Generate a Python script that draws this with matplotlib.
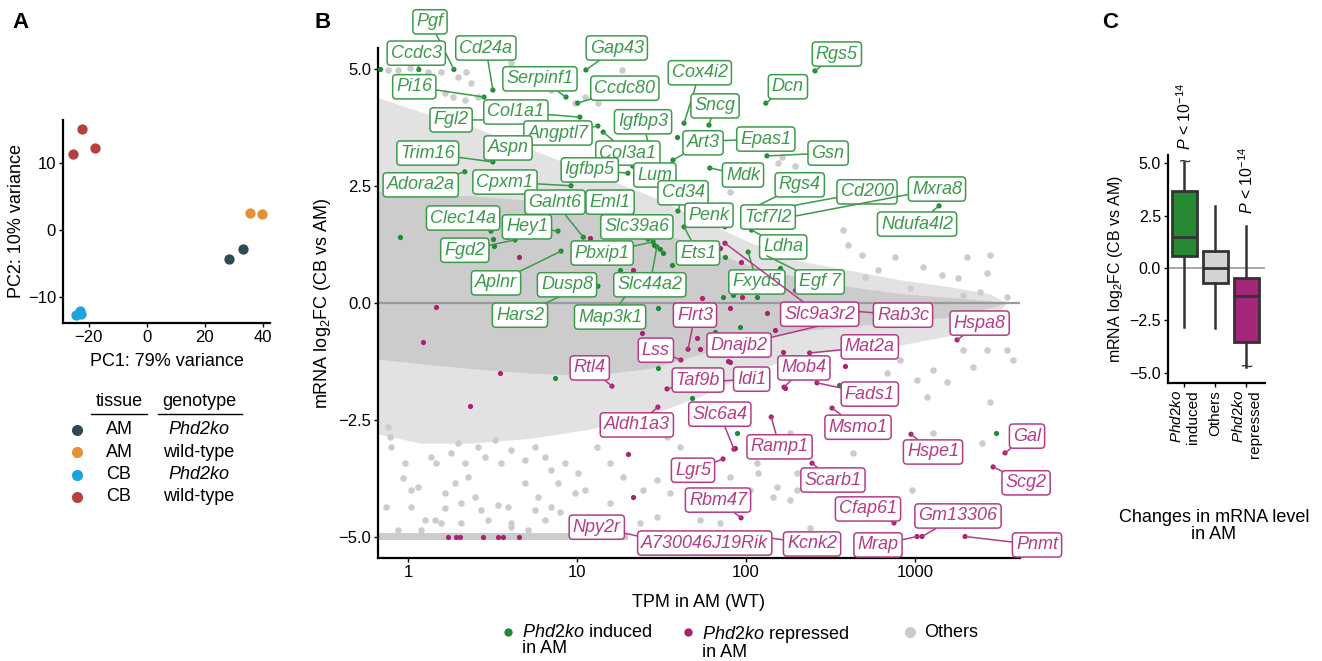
import matplotlib
matplotlib.use("Agg")
import matplotlib.pyplot as plt
from matplotlib.lines import Line2D
from matplotlib.ticker import NullLocator

plt.rcParams['font.family'] = ['Liberation Sans', 'DejaVu Sans']
plt.rcParams['mathtext.fontset'] = 'custom'
plt.rcParams['mathtext.rm'] = 'Liberation Sans'
plt.rcParams['mathtext.it'] = 'Liberation Sans:italic'
plt.rcParams['mathtext.bf'] = 'Liberation Sans:bold'

W, H = 1322, 661

# ---------------- A: PCA ----------------
pca_groups = [('AM', 'Phd2ko'), ('AM', 'wild-type'), ('CB', 'Phd2ko'), ('CB', 'wild-type')]
pca_colors = ['#2F4A53', '#E69138', '#1FA3DD', '#B5403F']
pc1 = [[28.5, 33.3], [35.6, 39.9], [-23.2, -24.4, -22.8], [-22.4, -25.5, -17.8]]
pc2 = [[-4.35, -2.85], [2.6, 2.4], [-12.1, -12.7, -12.5], [15.1, 11.4, 12.3]]

# ---------------- B: MA plot ----------------
# dense cloud of "Others" (outline of the solid core and the speckled halo)
env_tpm = [0.665, 1.18, 2.33, 5.27, 11.9, 27.0, 53.3, 105, 208, 411, 812, 1603, 2763, 3500]
core_hi = [2.4, 2.3, 2.3, 2.2, 2.0, 1.6, 1.2, 0.8, 0.55, 0.35, 0.2, 0.12, 0.05, 0.0]
core_lo = [-1.2, -1.3, -1.4, -1.5, -1.55, -1.4, -1.1, -0.8, -0.6, -0.5, -0.4, -0.3, -0.1, 0.0]
halo_hi = [4.4, 4.1, 3.8, 3.3, 2.8, 2.3, 1.8, 1.3, 0.9, 0.7, 0.5, 0.35, 0.2, 0.0]
halo_lo = [-2.8, -3.0, -3.0, -2.9, -2.7, -2.4, -2.0, -1.5, -1.1, -1.0, -0.9, -0.7, -0.4, 0.0]
floor_tpm = [0.665, 20.0]   # genes capped at -5

other_tpm = [0.76, 0.87, 1.03, 1.31, 1.57, 1.98, 2.20, 2.36, 1.66, 1.85, 2.17, 2.60, 2.26,
             4.07, 4.93, 5.88, 7.03, 8.26, 9.69, 11.1, 18.4, 13.3,
             163, 155, 80.2, 195, 375, 402, 486, 762, 1114, 1445, 2031, 2780, 2670, 1796,
             3500, 2412, 1923, 934, 604, 506, 604,
             0.76, 0.79, 0.78, 0.96, 0.93, 1.15, 1.04, 1.37, 1.46, 1.80, 1.98, 2.17, 2.60,
             2.86, 3.27, 3.55, 4.07, 4.93, 5.65, 6.47, 7.03, 7.72, 8.49, 10.1, 11.1, 1.04,
             1.26, 1.44, 1.66, 2.06, 2.49, 2.70, 3.40, 3.90, 4.07, 5.65, 6.47, 7.03, 7.93,
             9.69, 0.87, 1.19, 1.57, 2.06, 2.97, 4.07, 5.13, 1.90, 2.26, 1.66, 4.93, 5.88, 0.74,
             13.1, 15.7, 18.8, 24.5, 29.7, 35.5, 46.5, 58.9, 80.2, 105, 152, 182, 200, 116,
             138, 152, 182, 53.3, 70, 29.7, 23.6, 15.7, 40.6, 34.1, 105, 217,
             1278, 1028, 1545, 2780, 1278, 2490, 430, 960, 238, 3500, 2670, 3800, 1923, 2205,
             118, 145, 200, 680, 812, 1170]
other_lfc = [4.99, 4.99, 5.03, 4.95, 4.95, 4.84, 4.95, 4.71, 4.50, 4.41, 4.35, 4.41, 4.13,
             5.14, 4.99, 4.95, 4.56, 4.88, 4.28, 4.41, 4.99, 4.28,
             3.13, 3.0, 2.38, 2.93, 1.56, 1.24, 1.03, 0.98, 0.77, 0.6, 0.98, 1.03, 0.64, 0.54,
             0.13, 0.24, 0.17, 0.32, 0.21, 0.56, 0.71,
             -2.66, -3.08, -2.87, -3.43, -3.75, -3.94, -4.0, -3.30, -3.43, -3.21, -3.0, -3.43, -3.08,
             -3.30, -2.93, -3.43, -3.15, -3.36, -3.08, -3.30, -3.58, -3.85, -3.43, -3.64, -4.0, -4.37,
             -4.65, -4.65, -4.39, -4.28, -4.15, -4.43, -4.33, -4.37, -4.71, -4.43, -4.65, -4.37, -4.48,
             -4.07, -4.86, -4.86, -4.71, -4.71, -4.65, -4.80, -4.86, -3.85, -3.73, -4.07, -3.85, -4.15, -4.37,
             -3.08, -3.43, -3.73, -4.0, -3.79, -4.07, -4.15, -4.0, -3.73, -4.0, -3.94, -4.22, -3.64, -3.43,
             -3.15, -2.93, -2.78, -4.65, -4.71, -4.58, -4.71, -4.28, -3.08, -2.87, -2.93, -3.15,
             -1.43, -1.65, -1.69, -2.12, -2.78, -3.0, -3.21, -4.0, -4.82, -1.01, -1.01, -1.22, -1.01, -1.37,
             -3.64, -4.15, -4.0, -1.5, -1.22, -2.01]

# unlabelled regulated genes
ind_tpm = [0.68, 0.90, 7.41, 39.1, 32.3, 36.5, 17.9, 75.1, 158, 30.1, 65.6, 30.1, 47.9, 88.5,
           91.9, 355, 3013, 73.1, 83.7, 116, 3.23, 3.85, 3.18, 28.5, 31.0]
ind_lfc = [5.0, 1.41, -1.61, 3.55, 1.07, 0.81, 0.71, 0.99, 0.75, -0.11, -0.62, -1.39, -2.03, -2.78,
           -0.51, -1.76, -2.78, 0.13, 0.17, 0.13, 1.22, 1.41, 1.37, 1.25, 1.15]
rep_tpm = [1.46, 1.23, 3.50, 2.33, 1.72, 1.92, 2.03, 2.78, 3.40, 3.65, 4.54, 4.54, 11.9, 21.4,
           24.3, 51.3, 53.3, 78.2, 20.0, 21.4, 166, 385, 70, 93.5, 195, 55, 94.5, 80.2, 133,
           149, 80.2, 86.1, 170]
rep_lfc = [-0.09, -0.83, -1.5, -2.21, -5.0, -5.0, -5.0, -5.0, -5.0, -5.0, -5.0, 0.99, 1.39, 0.71,
           -0.64, -0.75, -0.99, -1.24, -3.23, -4.15, -1.05, -1.35, 1.18, 0.88, 0.28, 0.11, 0.13, -0.11, -0.21,
           -0.58, -1.26, -3.1, -1.82]

# labelled genes: name, TPM, log2FC, class
gene_name = ['Pgf', 'Ccdc3', 'Cd24a', 'Gap43', 'Serpinf1', 'Pi16', 'Ccdc80', 'Fgl2', 'Col1a1',
             'Angptl7', 'Igfbp3', 'Col3a1', 'Trim16', 'Aspn', 'Adora2a', 'Cpxm1', 'Igfbp5', 'Lum',
             'Galnt6', 'Eml1', 'Clec14a', 'Hey1', 'Fgd2', 'Slc39a6', 'Pbxip1', 'Aplnr', 'Hars2', 'Dusp8',
             'Map3k1', 'Slc44a2', 'Cox4i2', 'Sncg', 'Epas1', 'Art3', 'Gsn', 'Mdk', 'Cd34', 'Penk', 'Ets1',
             'Rgs5', 'Dcn', 'Rgs4', 'Cd200', 'Mxra8', 'Tcf7l2', 'Ndufa4l2', 'Ldha', 'Egf 7', 'Fxyd5',
             'Flrt3', 'Lss', 'Rab3c', 'Dnajb2', 'Slc9a3r2', 'Hspa8', 'Mat2a', 'Mob4', 'Fads1', 'Msmo1',
             'Hspe1', 'Scarb1', 'Gal', 'Scg2', 'Cfap61', 'Gm13306', 'Mrap', 'Pnmt', 'Kcnk2', 'Npy2r',
             'A730046J19Rik', 'Rbm47', 'Lgr5', 'Ramp1', 'Slc6a4', 'Aldh1a3', 'Idi1', 'Taf9b', 'Rtl4']
gene_tpm = [1.87, 1.16, 3.18, 11.3, 8.61, 2.82, 10.1, 3.06, 10.4,
            13.3, 27.0, 14.3, 3.18, 3.75, 2.17, 9.21, 20.0, 21.4,
            10.9, 14.4, 3.10, 7.72, 4.30, 26.3, 28.2, 8.05, 9.09, 13.3,
            20.6, 29.7, 43.0, 60.4, 62.9, 37.0, 133, 61.1, 39.6, 75.1, 43.0,
            256, 131, 98.6, 158, 182, 130, 1387, 108, 133, 103,
            45.4, 41.2, 360, 336, 75.1, 1774, 238, 168, 263, 323,
            947, 246, 3410, 2897, 751, 1100, 1028, 1977, 121, 23.6,
            53.3, 93.5, 73.1, 141, 84.9, 30.1, 57.2, 34.1, 16.1]
gene_lfc = [5.0, 5.0, 4.56, 4.99, 4.41, 4.41, 4.28, 3.92, 3.98,
            3.79, 3.28, 3.66, 3.02, 3.28, 2.81, 2.51, 2.78, 2.93,
            1.41, 1.82, 1.54, 1.54, 1.35, 1.37, 1.31, 1.11, 0.24, 0.36,
            0.28, 1.2, 3.85, 3.81, 3.47, 3.06, 3.15, 2.89, 1.97, 1.63, 1.63,
            4.97, 4.28, 1.95, 2.03, 1.84, 1.73, 2.08, 1.56, 1.01, 1.09,
            -0.99, -1.22, -0.15, -0.41, 1.28, -0.79, -1.07, -1.8, -1.71, -2.25,
            -2.81, -3.43, -3.21, -3.51, -4.71, -5.0, -5.0, -5.0, -5.0, -5.0,
            -5.0, -4.6, -3.34, -2.44, -3.13, -2.23, -1.69, -1.84, -1.78]
gene_class = ['up'] * 49 + ['down'] * 29

# where each label box sits (repelled positions)
label_tpm = [1.35, 1.12, 2.89, 17.2, 6.04, 1.09, 19.2, 1.80, 4.35,
             7.72, 24.6, 20.0, 1.31, 3.91, 1.19, 3.75, 11.9, 28.9,
             7.41, 15.7, 2.12, 5.06, 2.17, 22.6, 14.1, 3.32, 4.60, 8.73,
             15.7, 27.0, 53.3, 65.6, 131, 55.7, 306, 96.0, 42.4, 60.4, 52.0,
             345, 177, 208, 520, 1349, 135, 1028, 166, 273, 116,
             49.9, 29.3, 849, 91.0, 273, 2412, 540, 220, 540, 460,
             1278, 327, 4600, 4540, 527, 1796, 604, 5270, 246, 13.1,
             57, 68.3, 48.6, 158, 70, 22.6, 108, 52, 11.9]
label_lfc = [6.02, 5.35, 5.46, 5.46, 4.8, 4.63, 4.6, 3.92, 4.09,
             3.64, 3.88, 3.21, 3.21, 3.32, 2.53, 2.59, 2.85, 2.74,
             2.16, 2.16, 1.82, 1.63, 1.13, 1.63, 1.07, 0.43, -0.26, 0.39,
             -0.30, 0.39, 4.93, 4.22, 3.51, 3.43, 3.21, 2.74, 2.36, 1.88, 1.07,
             5.33, 4.63, 2.53, 2.38, 2.44, 1.84, 1.69, 1.2, 0.45, 0.45,
             -0.26, -1.01, -0.26, -0.9, -0.24, -0.43, -0.94, -1.39, -1.95, -2.66,
             -3.19, -3.79, -2.85, -3.85, -4.41, -4.56, -5.18, -5.18, -5.16, -4.8,
             -5.14, -4.22, -3.58, -3.08, -2.38, -2.61, -1.63, -1.65, -1.39]

# ---------------- C: boxplot ----------------
box_names = ['$\\it{Phd2ko}$\ninduced', 'Others', '$\\it{Phd2ko}$\nrepressed']
box_q1 = [0.56, -0.72, -3.53]
box_med = [1.5, -0.02, -1.36]
box_q3 = [3.68, 0.8, -0.48]
box_lo = [-2.8, -2.88, -4.73]
box_hi = [5.05, 2.96, 2.0]
box_colors = ['#268A33', '#D3D3D3', '#A32679']

green_pt, pink_pt, grey_pt = '#1E8A32', '#A8226F', '#CCCCCC'
green_lab, pink_lab = '#3C9A4B', '#B43C87'

fig = plt.figure(figsize=(W / 100, H / 100), dpi=100)


def box(l, t, r, b):
    return [l / W, 1 - b / H, (r - l) / W, (b - t) / H]


# ===== panel A =====
axA = fig.add_axes(box(63, 120, 270, 323))
for i in range(4):
    axA.scatter(pc1[i], pc2[i], s=55, color=pca_colors[i], lw=0, zorder=3)
axA.set_xlim(-28.9, 42.5)
axA.set_ylim(-13.9, 16.5)
axA.set_xticks([-20, 0, 20, 40])
axA.set_xticklabels(['\u221220', '0', '20', '40'])
axA.set_yticks([-10, 0, 10])
axA.set_yticklabels(['\u221210', '0', '10'])
axA.tick_params(labelsize=12, length=3, width=1, pad=2)
for s in ['top', 'right']:
    axA.spines[s].set_visible(False)
for s in ['left', 'bottom']:
    axA.spines[s].set_linewidth(1.6)
axA.set_xlabel('PC1: 79% variance', fontsize=13, labelpad=6)
axA.set_ylabel('PC2: 10% variance', fontsize=13, labelpad=2)

# table-like legend
fig.text(119 / W, 1 - 402 / H, 'tissue', ha='center', va='center', fontsize=13)
fig.text(199 / W, 1 - 402 / H, 'genotype', ha='center', va='center', fontsize=13)
fig.add_artist(Line2D([91 / W, 147 / W], [1 - 414 / H] * 2, color='black', lw=1))
fig.add_artist(Line2D([158 / W, 242 / W], [1 - 414 / H] * 2, color='black', lw=1))
for i, (tis, gen) in enumerate(pca_groups):
    yy = 1 - (430 + 22.3 * i) / H
    fig.add_artist(Line2D([77 / W], [yy], marker='o', ms=8, mew=0, color=pca_colors[i], ls=''))
    fig.text(119 / W, yy, tis, ha='center', va='center', fontsize=13)
    fig.text(199 / W, yy, gen, ha='center', va='center', fontsize=13,
             style='italic' if gen == 'Phd2ko' else 'normal')

# ===== panel B =====
axB = fig.add_axes(box(378, 48, 1020, 558))
axB.set_xscale('log')
axB.fill_between(env_tpm, halo_lo, halo_hi, color='#E2E2E2', lw=0, zorder=1)
axB.fill_between(env_tpm, core_lo, core_hi, color=grey_pt, lw=0, zorder=1.2)
axB.fill_between(floor_tpm, -5.07, -4.93, color=grey_pt, lw=0, zorder=1.2)
axB.scatter(other_tpm, other_lfc, s=22, color=grey_pt, lw=0, zorder=1.3)
axB.axhline(0, color='#9A9A9A', lw=1.6, zorder=2)
axB.scatter(ind_tpm, ind_lfc, s=14, color=green_pt, lw=0, zorder=3, clip_on=False)
axB.scatter(rep_tpm, rep_lfc, s=14, color=pink_pt, lw=0, zorder=3)
pt_cols = [green_pt if c == 'up' else pink_pt for c in gene_class]
axB.scatter(gene_tpm, gene_lfc, s=14, c=pt_cols, lw=0, zorder=3)

for name, x, y, lx, ly, c in zip(gene_name, gene_tpm, gene_lfc, label_tpm, label_lfc, gene_class):
    col = green_lab if c == 'up' else pink_lab
    axB.annotate(name, xy=(x, y), xytext=(lx, ly), ha='center', va='center',
                 fontsize=13, style='italic', color=col, zorder=6,
                 bbox=dict(boxstyle='round,pad=0.2,rounding_size=0.2', fc='white', ec=col, lw=1.1),
                 arrowprops=dict(arrowstyle='-', color=col, lw=1.1, shrinkA=0, shrinkB=0),
                 annotation_clip=False)

axB.set_xlim(0.665, 4180)
axB.set_ylim(-5.46, 5.46)
axB.set_xticks([1, 10, 100, 1000])
axB.set_xticklabels(['1', '10', '100', '1000'])
axB.xaxis.set_minor_locator(NullLocator())
axB.set_yticks([-5, -2.5, 0, 2.5, 5])
axB.set_yticklabels(['\u22125.0', '\u22122.5', '0.0', '2.5', '5.0'])
axB.tick_params(labelsize=12, length=3, width=1, pad=2)
for s in ['top', 'right']:
    axB.spines[s].set_visible(False)
for s in ['left', 'bottom']:
    axB.spines[s].set_linewidth(1.6)
axB.set_xlabel('TPM in AM (WT)', fontsize=13, labelpad=10)
axB.set_ylabel('mRNA log$_2$FC (CB vs AM)', fontsize=13, labelpad=4)

# legend of panel B, laid out by hand so the dot sits on the first line
leg_cols = [green_pt, pink_pt, grey_pt]
leg_sizes = [6, 6, 8]
leg_text = ['$\\it{Phd2ko}$ induced\nin AM', '$\\it{Phd2ko}$ repressed\nin AM', 'Others']
leg_x = [508, 688, 910]
for c, ms, t, lx in zip(leg_cols, leg_sizes, leg_text, leg_x):
    fig.add_artist(Line2D([lx / W], [1 - 632 / H], marker='o', ms=ms, mew=0, color=c, ls=''))
    fig.text((lx + 14) / W, 1 - 624 / H, t, ha='left', va='top', fontsize=13, linespacing=0.95)

# ===== panel C =====
axC = fig.add_axes(box(1168, 155, 1265, 383))
stats = []
for i in range(3):
    stats.append(dict(q1=box_q1[i], med=box_med[i], q3=box_q3[i],
                      whislo=box_lo[i], whishi=box_hi[i], fliers=[]))
axC.axhline(0, color='#9A9A9A', lw=1.2, zorder=0)
bp = axC.bxp(stats, positions=[1, 2, 3], widths=0.82, patch_artist=True, showfliers=False,
             showcaps=False,
             boxprops=dict(lw=2, edgecolor='#333333'),
             medianprops=dict(color='#333333', lw=2),
             whiskerprops=dict(color='#333333', lw=1.8))
for patch, c in zip(bp['boxes'], box_colors):
    patch.set_facecolor(c)
# broken whisker marks
axC.text(1, box_hi[0], '~', ha='center', va='center', fontsize=15, color='#333333')
axC.text(3, box_lo[2], '~', ha='center', va='center', fontsize=15, color='#333333')
for i in [0, 2]:
    axC.annotate('$\\it{P}$ < 10$^{-14}$', xy=(i + 1, box_hi[i]), xytext=(0, 9),
                 textcoords='offset points', rotation=90, ha='center', va='bottom',
                 fontsize=11.5, annotation_clip=False)
axC.set_xlim(0.47, 3.6)
axC.set_ylim(-5.5, 5.4)
axC.set_yticks([-5, -2.5, 0, 2.5, 5])
axC.set_yticklabels(['\u22125.0', '\u22122.5', '0.0', '2.5', '5.0'])
axC.set_xticks([1, 2, 3])
axC.set_xticklabels(box_names, rotation=90, ha='center', va='top', multialignment='right',
                    fontsize=11)
axC.tick_params(axis='y', labelsize=11.5, length=3, width=1, pad=2)
axC.tick_params(axis='x', length=3, width=1, pad=2)
for s in ['top', 'right']:
    axC.spines[s].set_visible(False)
for s in ['left', 'bottom']:
    axC.spines[s].set_linewidth(1.6)
axC.set_ylabel('mRNA log$_2$FC (CB vs AM)', fontsize=11.5, labelpad=3)
fig.text(1214 / W, 1 - 526 / H, 'Changes in mRNA level\nin AM', ha='center', va='center',
         fontsize=13, linespacing=1.0)

# panel letters
fig.text(12 / W, 1 - 23 / H, 'A', fontsize=16, weight='bold', va='center')
fig.text(314 / W, 1 - 23 / H, 'B', fontsize=16, weight='bold', va='center')
fig.text(1102 / W, 1 - 23 / H, 'C', fontsize=16, weight='bold', va='center')

fig.savefig('out.png', dpi=100)
